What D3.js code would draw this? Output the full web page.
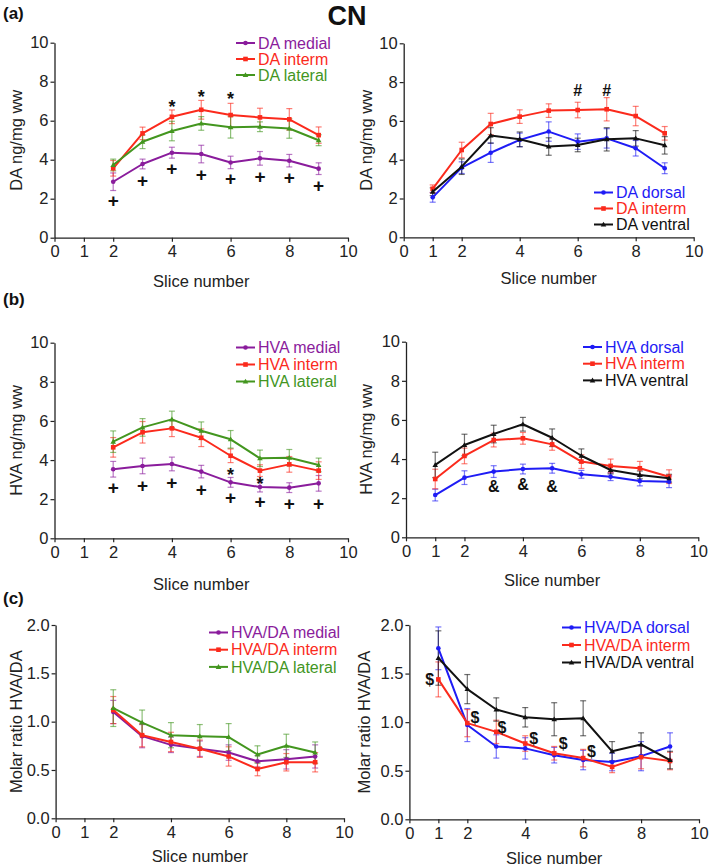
<!DOCTYPE html>
<html><head><meta charset="utf-8">
<script src="https://cdn.jsdelivr.net/npm/d3@7"></script>
<style>
html,body{margin:0;padding:0;background:#fff;}
svg{display:block;font-family:"Liberation Sans",Arial,Helvetica,sans-serif;}
</style></head>
<body>
<svg id="chart" width="709" height="866"></svg>
<script>
// ---------- DATA ----------
const slicesMLI = [2, 3, 4, 5, 6, 7, 8, 9];
const slicesDIV = [1, 2, 3, 4, 5, 6, 7, 8, 9];
const xTickValues = [0, 1, 2, 4, 6, 8, 10];
const yTicksConc = [0, 2, 4, 6, 8, 10];
const yTicksRatio = [0, 0.5, 1.0, 1.5, 2.0];

// (a) DA, medial / interm / lateral
const daMedial = [2.87, 3.78, 4.36, 4.29, 3.86, 4.07, 3.95, 3.54];
const daMedialErr = [0.45, 0.25, 0.28, 0.45, 0.32, 0.35, 0.32, 0.3];
const daIntermA = [3.56, 5.35, 6.2, 6.56, 6.29, 6.17, 6.07, 5.26];
const daIntermAErr = [0.4, 0.32, 0.35, 0.48, 0.6, 0.47, 0.55, 0.42];
const daLateral = [3.73, 4.92, 5.47, 5.86, 5.66, 5.69, 5.6, 5.0];
const daLateralErr = [0.3, 0.35, 0.5, 0.35, 0.55, 0.25, 0.5, 0.28];
const aLeftStar = {x: [4, 5, 6], y: [6.97, 7.49, 7.4]};
const aLeftPlus = {x: [2, 3, 4, 5, 6, 7, 8, 9], y: [1.93, 2.96, 3.56, 3.26, 3.04, 3.18, 3.13, 2.7]};

// (a) DA, dorsal / interm / ventral
const daDorsal = [2.06, 3.59, 4.36, 5.02, 5.45, 4.93, 5.1, 4.59, 3.56];
const daDorsalErr = [0.25, 0.3, 0.5, 0.35, 0.5, 0.4, 0.5, 0.4, 0.28];
const daIntermB = [2.5, 4.5, 5.84, 6.22, 6.53, 6.56, 6.6, 6.25, 5.36];
const daIntermBErr = [0.2, 0.4, 0.55, 0.35, 0.35, 0.4, 0.6, 0.5, 0.35];
const daVentral = [2.35, 3.64, 5.25, 5.05, 4.68, 4.76, 5.05, 5.1, 4.74];
const daVentralErr = [0.2, 0.4, 0.4, 0.38, 0.45, 0.35, 0.6, 0.4, 0.45];
const aRightHash = {x: [6, 7], y: [7.56, 7.56]};

// (b) HVA, medial / interm / lateral
const hvaMedial = [3.53, 3.7, 3.8, 3.41, 2.86, 2.62, 2.59, 2.81];
const hvaMedialErr = [0.4, 0.4, 0.35, 0.32, 0.25, 0.25, 0.25, 0.4];
const hvaIntermA = [4.65, 5.42, 5.62, 5.14, 4.22, 3.46, 3.78, 3.46];
const hvaIntermAErr = [0.5, 0.55, 0.42, 0.45, 0.35, 0.3, 0.4, 0.45];
const hvaLateral = [4.94, 5.67, 6.08, 5.5, 5.06, 4.09, 4.12, 3.75];
const hvaLateralErr = [0.55, 0.45, 0.42, 0.45, 0.45, 0.42, 0.42, 0.35];
const bLeftStar = {x: [6, 7], y: [3.49, 3.03]};
const bLeftPlus = {x: [2, 3, 4, 5, 6, 7, 8, 9], y: [2.59, 2.73, 2.86, 2.52, 2.11, 1.91, 1.79, 1.82]};

// (b) HVA, dorsal / interm / ventral
const hvaDorsal = [2.16, 3.05, 3.36, 3.49, 3.53, 3.22, 3.1, 2.88, 2.84];
const hvaDorsalErr = [0.3, 0.35, 0.3, 0.25, 0.25, 0.2, 0.2, 0.25, 0.3];
const hvaIntermB = [2.98, 4.16, 4.97, 5.06, 4.75, 3.87, 3.65, 3.53, 3.1];
const hvaIntermBErr = [0.5, 0.4, 0.35, 0.3, 0.3, 0.35, 0.35, 0.35, 0.35];
const hvaVentral = [3.7, 4.72, 5.28, 5.78, 5.09, 4.17, 3.44, 3.19, 3.02];
const hvaVentralErr = [0.65, 0.55, 0.45, 0.35, 0.45, 0.35, 0.2, 0.2, 0.2];
const bRightAmp = {x: [3, 4, 5], y: [2.59, 2.7, 2.59]};

// (c) HVA/DA ratio, medial / interm / lateral
const ratioMedial = [1.1, 0.85, 0.76, 0.72, 0.68, 0.59, 0.61, 0.64];
const ratioMedialErr = [0.12, 0.12, 0.08, 0.08, 0.08, 0.06, 0.1, 0.12];
const ratioIntermA = [1.12, 0.86, 0.79, 0.72, 0.64, 0.51, 0.58, 0.58];
const ratioIntermAErr = [0.14, 0.12, 0.1, 0.09, 0.1, 0.07, 0.09, 0.1];
const ratioLateral = [1.14, 0.99, 0.86, 0.85, 0.84, 0.66, 0.75, 0.68];
const ratioLateralErr = [0.19, 0.13, 0.13, 0.12, 0.14, 0.09, 0.12, 0.11];

// (c) HVA/DA ratio, dorsal / interm / ventral
const ratioDorsal = [1.76, 0.97, 0.75, 0.73, 0.66, 0.61, 0.59, 0.65, 0.75];
const ratioDorsalErr = [0.22, 0.17, 0.12, 0.11, 0.08, 0.1, 0.09, 0.15, 0.14];
const ratioIntermB = [1.44, 0.99, 0.9, 0.78, 0.68, 0.63, 0.54, 0.64, 0.6];
const ratioIntermBErr = [0.18, 0.14, 0.12, 0.08, 0.07, 0.09, 0.06, 0.12, 0.09];
const ratioVentral = [1.66, 1.34, 1.13, 1.05, 1.03, 1.04, 0.7, 0.77, 0.61];
const ratioVentralErr = [0.28, 0.15, 0.12, 0.1, 0.17, 0.18, 0.1, 0.12, 0.09];
const cRightDollar = {x: [0.7, 2.26, 3.2, 4.29, 5.31, 6.29], y: [1.44, 1.05, 0.95, 0.83, 0.78, 0.7]};

// ---------- STYLE ----------
const C = {purple: "#8a1c9c", red: "#fb2a1c", green: "#43961f", blue: "#1f1cf5", black: "#111111"};
const FONT = {tick: 16.5, label: 16.5, legend: 16, mark: 16};

const svg = d3.select("#chart");

function series(name, xs, ys, es, color, shape) {
  return {name, data: xs.map((x, i) => ({x, y: ys[i], e: es[i]})), color, shape};
}

const panels = [
  {box: [54.5, 348, 237.7, 42.7], yMax: 10, yTicks: yTicksConc, yFmt: d3.format("d"),
   ylabel: "DA ng/mg ww", ylabX: 16, xlabY: 287, legend: [236, 43, 16],
   series: [series("DA medial", slicesMLI, daMedial, daMedialErr, C.purple, "circle"),
            series("DA interm", slicesMLI, daIntermA, daIntermAErr, C.red, "square"),
            series("DA lateral", slicesMLI, daLateral, daLateralErr, C.green, "triangle")],
   marks: [["*", aLeftStar], ["+", aLeftPlus]]},
  {box: [403.7, 693.7, 237.3, 43.3], yMax: 10, yTicks: yTicksConc, yFmt: d3.format("d"),
   ylabel: "DA ng/mg ww", ylabX: 366, xlabY: 284, legend: [594, 192.5, 16],
   series: [series("DA dorsal", slicesDIV, daDorsal, daDorsalErr, C.blue, "circle"),
            series("DA interm", slicesDIV, daIntermB, daIntermBErr, C.red, "square"),
            series("DA ventral", slicesDIV, daVentral, daVentralErr, C.black, "triangle")],
   marks: [["#", aRightHash]]},
  {box: [54.5, 348, 538.3, 342.7], yMax: 10, yTicks: yTicksConc, yFmt: d3.format("d"),
   ylabel: "HVA ng/mg ww", ylabX: 16, xlabY: 590, legend: [236, 347.5, 17],
   series: [series("HVA medial", slicesMLI, hvaMedial, hvaMedialErr, C.purple, "circle"),
            series("HVA interm", slicesMLI, hvaIntermA, hvaIntermAErr, C.red, "square"),
            series("HVA lateral", slicesMLI, hvaLateral, hvaLateralErr, C.green, "triangle")],
   marks: [["*", bLeftStar], ["+", bLeftPlus]]},
  {box: [406, 698.3, 537.3, 341.7], yMax: 10, yTicks: yTicksConc, yFmt: d3.format("d"),
   ylabel: "HVA ng/mg ww", ylabX: 366, xlabY: 586, legend: [583, 347, 16.7],
   series: [series("HVA dorsal", slicesDIV, hvaDorsal, hvaDorsalErr, C.blue, "circle"),
            series("HVA interm", slicesDIV, hvaIntermB, hvaIntermBErr, C.red, "square"),
            series("HVA ventral", slicesDIV, hvaVentral, hvaVentralErr, C.black, "triangle")],
   marks: [["&", bRightAmp]]},
  {box: [55.6, 344, 818.3, 625], yMax: 2, yTicks: yTicksRatio, yFmt: d3.format(".1f"),
   ylabel: "Molar ratio HVA/DA", ylabX: 16, xlabY: 862, legend: [209, 632.5, 17.2],
   series: [series("HVA/DA medial", slicesMLI, ratioMedial, ratioMedialErr, C.purple, "circle"),
            series("HVA/DA interm", slicesMLI, ratioIntermA, ratioIntermAErr, C.red, "square"),
            series("HVA/DA lateral", slicesMLI, ratioLateral, ratioLateralErr, C.green, "triangle")],
   marks: []},
  {box: [409.4, 699, 819.3, 625], yMax: 2, yTicks: yTicksRatio, yFmt: d3.format(".1f"),
   ylabel: "Molar ratio HVA/DA", ylabX: 364, xlabY: 864, legend: [562, 627.5, 17.5],
   series: [series("HVA/DA dorsal", slicesDIV, ratioDorsal, ratioDorsalErr, C.blue, "circle"),
            series("HVA/DA interm", slicesDIV, ratioIntermB, ratioIntermBErr, C.red, "square"),
            series("HVA/DA ventral", slicesDIV, ratioVentral, ratioVentralErr, C.black, "triangle")],
   marks: [["$", cRightDollar]]}
];

function drawMarker(g, shape, color, cx, cy) {
  if (shape === "circle") {
    g.append("circle").attr("cx", cx).attr("cy", cy).attr("r", 2.3).attr("fill", color);
  } else if (shape === "square") {
    g.append("rect").attr("x", cx - 2.3).attr("y", cy - 2.3).attr("width", 4.6).attr("height", 4.6).attr("fill", color);
  } else {
    g.append("path").attr("d", `M${cx},${cy - 2.8}L${cx + 2.8},${cy + 2}L${cx - 2.8},${cy + 2}Z`).attr("fill", color);
  }
}

panels.forEach(p => {
  const [x0, x1, y0, y1] = p.box;
  const x = d3.scaleLinear().domain([0, 10]).range([x0, x1]);
  const y = d3.scaleLinear().domain([0, p.yMax]).range([y0, y1]);
  const g = svg.append("g");

  // axes
  const xa = g.append("g").attr("transform", `translate(0,${y0})`)
    .call(d3.axisBottom(x).tickValues(xTickValues).tickSize(4).tickPadding(4).tickSizeOuter(0).tickFormat(d3.format("d")));
  const ya = g.append("g").attr("transform", `translate(${x0},0)`)
    .call(d3.axisLeft(y).tickValues(p.yTicks).tickSize(4).tickPadding(2).tickSizeOuter(0).tickFormat(p.yFmt));
  [xa, ya].forEach(a => {
    a.select(".domain").attr("stroke", "#222").attr("stroke-width", 1.3);
    a.selectAll(".tick line").attr("stroke", "#222").attr("stroke-width", 1.2);
    a.selectAll(".tick text").attr("fill", "#222").style("font-size", FONT.tick + "px").style("font-family", "Liberation Sans, Arial, sans-serif");
  });
  // labels
  g.append("text").attr("x", (x0 + x1) / 2).attr("y", p.xlabY).attr("text-anchor", "middle")
    .style("font-size", FONT.label + "px").attr("fill", "#222").text("Slice number");
  g.append("text").attr("transform", `translate(${p.ylabX + 6},${(y0 + y1) / 2}) rotate(-90)`)
    .attr("text-anchor", "middle").style("font-size", FONT.label + "px").attr("fill", "#222").text(p.ylabel);

  const line = d3.line().x(d => x(d.x)).y(d => y(d.y));
  // error bars
  p.series.forEach(s => {
    const eb = g.append("g").attr("stroke", s.color).attr("stroke-opacity", 0.6).attr("stroke-width", 1.2).attr("fill", "none");
    s.data.forEach(d => {
      const cx = x(d.x);
      eb.append("line").attr("x1", cx).attr("x2", cx).attr("y1", y(d.y - d.e)).attr("y2", y(d.y + d.e));
      eb.append("line").attr("x1", cx - 3).attr("x2", cx + 3).attr("y1", y(d.y - d.e)).attr("y2", y(d.y - d.e));
      eb.append("line").attr("x1", cx - 3).attr("x2", cx + 3).attr("y1", y(d.y + d.e)).attr("y2", y(d.y + d.e));
    });
  });
  // lines + markers
  p.series.forEach(s => {
    g.append("path").datum(s.data).attr("d", line).attr("fill", "none")
      .attr("stroke", s.color).attr("stroke-width", 2).attr("stroke-linejoin", "round");
    s.data.forEach(d => drawMarker(g, s.shape, s.color, x(d.x), y(d.y)));
  });
  // significance marks
  p.marks.forEach(([sym, m]) => {
    m.x.forEach((mx, i) => {
      const fs = sym === "+" ? 19 : (sym === "*" ? 18 : FONT.mark);
      g.append("text").attr("x", x(mx)).attr("y", y(m.y[i])).attr("dy", sym === "*" ? "0.62em" : "0.36em")
        .attr("text-anchor", "middle").style("font-size", fs + "px")
        .style("font-weight", "bold").attr("fill", "#111").text(sym);
    });
  });
  // legend
  const [lx, ly, lstep] = p.legend;
  p.series.forEach((s, i) => {
    const yy = ly + i * lstep;
    g.append("line").attr("x1", lx).attr("x2", lx + 19).attr("y1", yy).attr("y2", yy)
      .attr("stroke", s.color).attr("stroke-width", 2);
    drawMarker(g, s.shape, s.color, lx + 9.5, yy);
    g.append("text").attr("x", lx + 22).attr("y", yy).attr("dy", "0.36em")
      .style("font-size", FONT.legend + "px").attr("fill", s.color).text(s.name);
  });
});

// panel letters and title
[["(a)", 3, 19], ["(b)", 3, 305], ["(c)", 3, 604]].forEach(([t, tx, ty]) => {
  svg.append("text").attr("x", tx).attr("y", ty).style("font-size", "17px").style("font-weight", "bold").attr("fill", "#111").text(t);
});
svg.append("text").attr("x", 347).attr("y", 25).attr("text-anchor", "middle")
  .style("font-size", "27px").style("font-weight", "bold").attr("fill", "#111").text("CN");
</script>
</body></html>
